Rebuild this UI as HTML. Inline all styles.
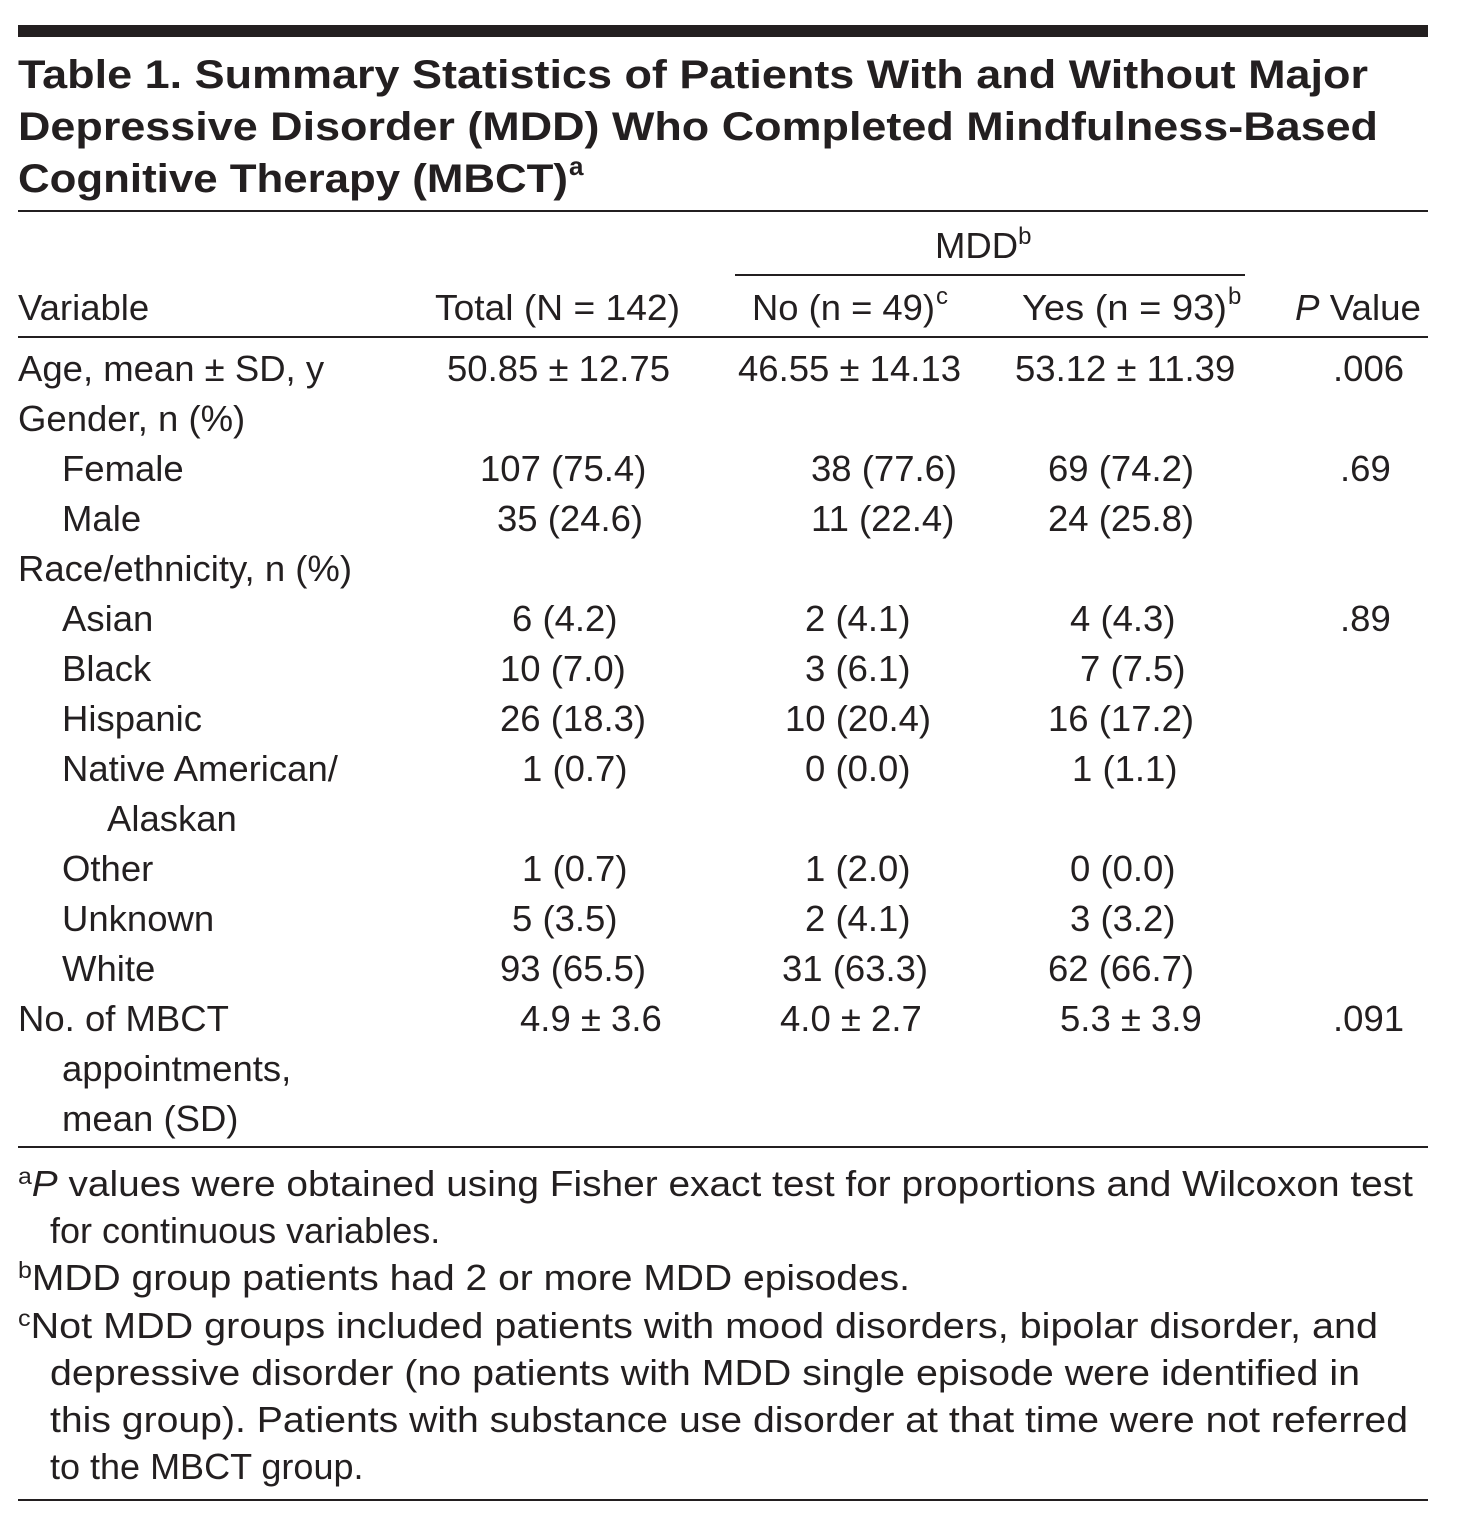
<!DOCTYPE html>
<html><head><meta charset="utf-8"><style>
html,body{margin:0;padding:0;background:#fff;}
svg{display:block;}
text{font-family:"Liberation Sans",sans-serif;fill:#231f20;}
.b{font-size:36.5px;}
.t{font-size:40px;font-weight:bold;}
.f{font-size:36px;}
</style></head><body>
<svg width="1461" height="1536" viewBox="0 0 1461 1536">
<rect x="18" y="25" width="1410" height="12" fill="#231f20"/>
<g>
<text class="t" x="18" y="88" textLength="1350" lengthAdjust="spacingAndGlyphs">Table 1. Summary Statistics of Patients With and Without Major</text>
<text class="t" x="18" y="140" textLength="1360" lengthAdjust="spacingAndGlyphs">Depressive Disorder (MDD) Who Completed Mindfulness-Based</text>
<text class="t" x="18" y="192" textLength="550" lengthAdjust="spacingAndGlyphs">Cognitive Therapy (MBCT)</text>
<text x="569" y="175" style="font-size:26px;font-weight:bold">a</text>
</g>
<rect x="18" y="210" width="1410" height="2" fill="#231f20"/>
<text class="b" x="935" y="258">MDD<tspan dy="-14" style="font-size:24px">b</tspan></text>
<rect x="735" y="274" width="510" height="2" fill="#231f20"/>
<g>
<text class="b" x="18" y="320">Variable</text>
<text class="b" x="435" y="320" textLength="245" lengthAdjust="spacingAndGlyphs">Total (N = 142)</text>
<text class="b" x="752" y="320" textLength="183" lengthAdjust="spacingAndGlyphs">No (n = 49)</text>
<text x="936" y="304" style="font-size:24px">c</text>
<text class="b" x="1022" y="320" textLength="205" lengthAdjust="spacingAndGlyphs">Yes (n = 93)</text>
<text x="1228" y="304" style="font-size:24px">b</text>
<text class="b" x="1295" y="320" textLength="126" lengthAdjust="spacingAndGlyphs"><tspan font-style="italic">P</tspan> Value</text>
</g>
<rect x="18" y="336" width="1410" height="2" fill="#231f20"/>
<g id="rows"></g>
<rect x="18" y="1146" width="1410" height="2" fill="#231f20"/>
<g>
<text class="f" x="18" y="1196" textLength="1395" lengthAdjust="spacingAndGlyphs"><tspan dy="-12" style="font-size:23px">a</tspan><tspan dy="12" font-style="italic">P</tspan> values were obtained using Fisher exact test for proportions and Wilcoxon test</text>
<text class="f" x="50" y="1243">for continuous variables.</text>
<text class="f" x="18" y="1290" textLength="892" lengthAdjust="spacingAndGlyphs"><tspan dy="-12" style="font-size:23px">b</tspan><tspan dy="12">MDD group patients had 2 or more MDD episodes.</tspan></text>
<text class="f" x="18" y="1338" textLength="1360" lengthAdjust="spacingAndGlyphs"><tspan dy="-12" style="font-size:23px">c</tspan><tspan dy="12">Not MDD groups included patients with mood disorders, bipolar disorder, and</tspan></text>
<text class="f" x="50" y="1385" textLength="1310" lengthAdjust="spacingAndGlyphs">depressive disorder (no patients with MDD single episode were identified in</text>
<text class="f" x="50" y="1432" textLength="1358" lengthAdjust="spacingAndGlyphs">this group). Patients with substance use disorder at that time were not referred</text>
<text class="f" x="50" y="1479">to the MBCT group.</text>
</g>
<rect x="18" y="1499" width="1410" height="2" fill="#231f20"/>
</svg>
<script>
const labels=[["Age, mean ± SD, y",18],["Gender, n (%)",18],["Female",62],["Male",62],["Race/ethnicity, n (%)",18],["Asian",62],["Black",62],["Hispanic",62],["Native American/",62],["Alaskan",107],["Other",62],["Unknown",62],["White",62],["No. of MBCT",18],["appointments,",62],["mean (SD)",62]];
const totalCol=[["50.85 ± 12.75",447],null,["107 (75.4)",480],["35 (24.6)",497],null,["6 (4.2)",512],["10 (7.0)",500],["26 (18.3)",500],["1 (0.7)",522],null,["1 (0.7)",522],["5 (3.5)",512],["93 (65.5)",500],["4.9 ± 3.6",520],null,null];
const noCol=[["46.55 ± 14.13",738],null,["38 (77.6)",811],["11 (22.4)",811],null,["2 (4.1)",805],["3 (6.1)",805],["10 (20.4)",785],["0 (0.0)",805],null,["1 (2.0)",805],["2 (4.1)",805],["31 (63.3)",782],["4.0 ± 2.7",780],null,null];
const yesCol=[["53.12 ± 11.39",1015],null,["69 (74.2)",1048],["24 (25.8)",1048],null,["4 (4.3)",1070],["7 (7.5)",1080],["16 (17.2)",1048],["1 (1.1)",1072],null,["0 (0.0)",1070],["3 (3.2)",1070],["62 (66.7)",1048],["5.3 ± 3.9",1060],null,null];
const pCol=[[".006",1333],null,[".69",1340],null,null,[".89",1340],null,null,null,null,null,null,null,[".091",1333],null,null];
const g=document.getElementById('rows');
const NS="http://www.w3.org/2000/svg";
function put(cell,y,name){
  if(!cell)return;
  const t=document.createElementNS(NS,'text');
  t.setAttribute('class','b');t.setAttribute('x',cell[1]);t.setAttribute('y',y);
  t.textContent=cell[0];
  
  
  g.appendChild(t);
}
labels.forEach((l,i)=>{
  const y=381+50*i;
  put(l,y,'row-label');
  put(totalCol[i],y,'total-cell');
  put(noCol[i],y,'mdd-no-cell');
  put(yesCol[i],y,'mdd-yes-cell');
  put(pCol[i],y,'p-value-cell');
});
</script>
</body></html>
